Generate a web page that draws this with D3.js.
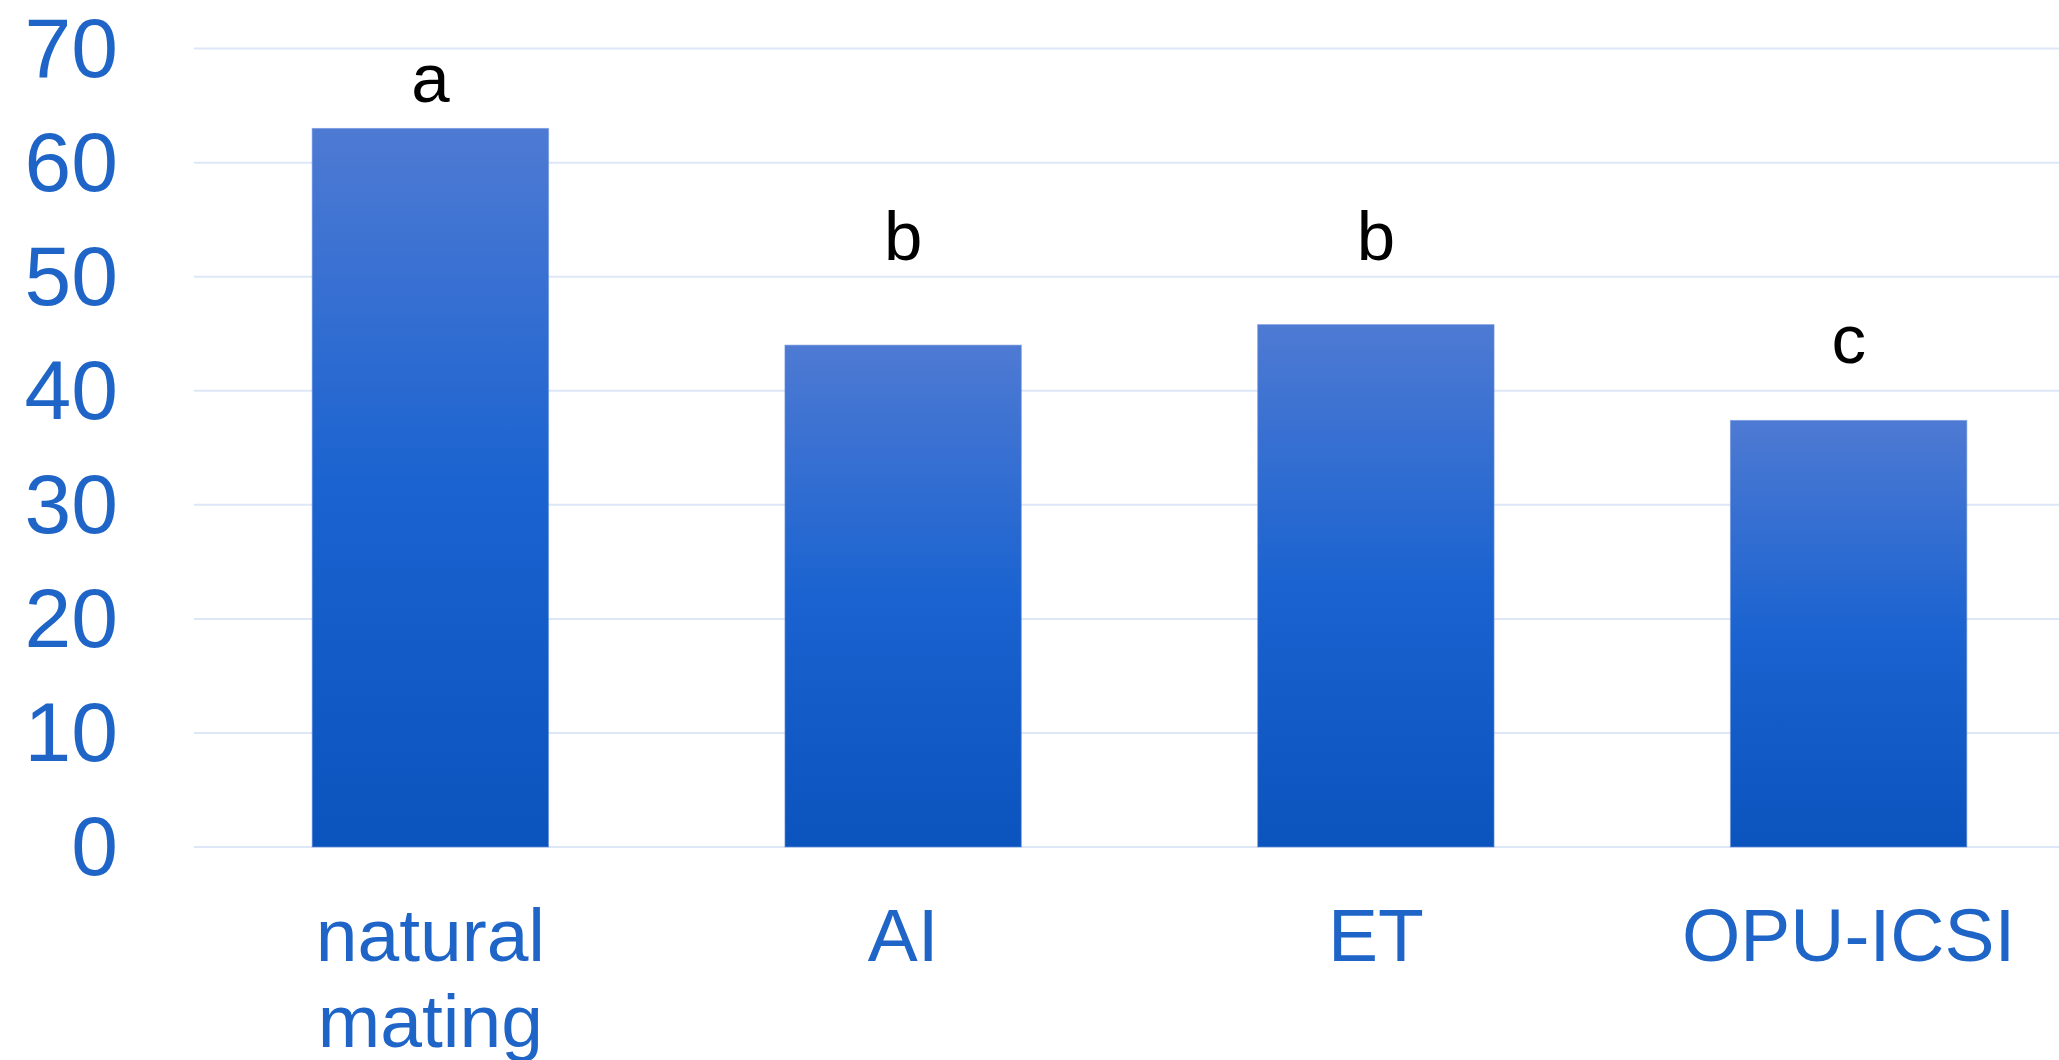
<!DOCTYPE html>
<html>
<head>
<meta charset="utf-8">
<script src="https://cdn.jsdelivr.net/npm/d3@7"></script>
<style>
  html, body { margin: 0; padding: 0; background: #fff; overflow: hidden; }
  text { font-family: "Liberation Sans", Arial, sans-serif; }
</style>
</head>
<body>
<svg id="chart" width="2059" height="1060"></svg>
<script>
// ---- data ----
const categories = ["natural mating", "AI", "ET", "OPU-ICSI"];
const values = [63, 44, 45.8, 37.4];
const letters = ["a", "b", "b", "c"];
const letterBaselineValues = [65.3, 51.5, 51.5, 42.4];
const yTicks = [0, 10, 20, 30, 40, 50, 60, 70];

// ---- layout ----
const W = 2059, H = 1060;
const svg = d3.select("#chart");

const x = d3.scaleBand()
  .domain(categories)
  .range([194, 2085])
  .paddingInner(0.5)
  .paddingOuter(0.25);

const y = d3.scaleLinear()
  .domain([0, 70])
  .range([847, 48.6]);

// gradient
const defs = svg.append("defs");
const grad = defs.append("linearGradient")
  .attr("id", "barGrad")
  .attr("x1", 0).attr("y1", 0).attr("x2", 0).attr("y2", 1);
grad.append("stop").attr("offset", "0%").attr("stop-color", "#4e7ad3");
grad.append("stop").attr("offset", "50%").attr("stop-color", "#1a63d0");
grad.append("stop").attr("offset", "100%").attr("stop-color", "#0b53bd");

// gridlines
const grid = svg.append("g").attr("class", "grid");
grid.selectAll("line")
  .data(yTicks)
  .join("line")
  .attr("x1", 194)
  .attr("x2", W)
  .attr("y1", d => y(d))
  .attr("y2", d => y(d))
  .attr("stroke", "#dde7f7")
  .attr("stroke-width", 2);

// y axis labels
const yAxis = d3.axisLeft(y).tickValues(yTicks).tickSize(0).tickPadding(0);
const yg = svg.append("g")
  .attr("transform", "translate(118,0)")
  .call(yAxis);
yg.select(".domain").remove();
yg.selectAll("text")
  .attr("fill", "#1f65c8")
  .attr("font-size", "84px")
  .attr("font-family", "'Liberation Sans', Arial, sans-serif")
  .attr("text-anchor", "end")
  .attr("dy", "0.33em");

// bars
svg.append("g").selectAll("rect")
  .data(categories)
  .join("rect")
  .attr("x", d => x(d))
  .attr("width", x.bandwidth())
  .attr("y", (d, i) => y(values[i]))
  .attr("height", (d, i) => y(0) - y(values[i]))
  .attr("fill", "url(#barGrad)")
  .attr("stroke", "#6d93dc")
  .attr("stroke-width", 1)
  .attr("stroke-opacity", 0.6);

// significance letters
svg.append("g").selectAll("text")
  .data(categories)
  .join("text")
  .attr("x", d => x(d) + x.bandwidth() / 2)
  .attr("y", (d, i) => y(letterBaselineValues[i]))
  .attr("text-anchor", "middle")
  .attr("font-size", "69px")
  .attr("fill", "#000")
  .text((d, i) => letters[i]);

// x labels
const xl = svg.append("g").selectAll("text")
  .data(categories)
  .join("text")
  .attr("x", d => x(d) + x.bandwidth() / 2)
  .attr("y", 961)
  .attr("text-anchor", "middle")
  .attr("font-size", "75px")
  .attr("fill", "#1f65c8");
xl.each(function(d) {
  const words = d === "natural mating" ? ["natural", "mating"] : [d];
  const t = d3.select(this);
  words.forEach((w, j) => {
    t.append("tspan")
      .attr("x", x(d) + x.bandwidth() / 2)
      .attr("dy", j === 0 ? 0 : 86)
      .text(w);
  });
});
</script>
</body>
</html>
